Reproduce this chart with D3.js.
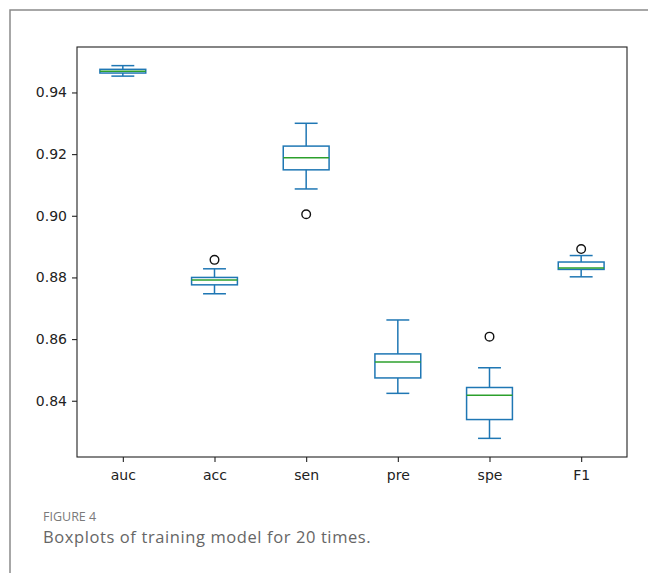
<!DOCTYPE html>
<html>
<head>
<meta charset="utf-8">
<script src="https://cdn.jsdelivr.net/npm/d3@7"></script>
<style>
  body { margin: 0; background: #fff; }
  svg { display: block; }
  .tick text { font-family: "DejaVu Sans", sans-serif; font-size: 14px; fill: #222; }
  .tick line { stroke: #222; }
</style>
</head>
<body>
<svg id="chart" width="648" height="573"></svg>
<script>
// Boxplot summary (20 training runs)
const metrics = ["auc", "acc", "sen", "pre", "spe", "F1"];
const whiskerLow  = [0.9453, 0.8747, 0.9087, 0.8424, 0.8278, 0.8802];
const q1          = [0.9463, 0.8776, 0.9149, 0.8474, 0.8339, 0.8826];
const medians     = [0.9469, 0.8792, 0.9188, 0.8526, 0.8418, 0.8831];
const q3          = [0.9475, 0.8800, 0.9226, 0.8552, 0.8443, 0.8850];
const whiskerHigh = [0.9487, 0.8828, 0.9300, 0.8662, 0.8507, 0.8871];
const outliers    = [[], [0.8857], [0.9005], [], [0.8608], [0.8892]];
const yTicks = [0.84, 0.86, 0.88, 0.90, 0.92, 0.94];

const boxes = metrics.map((m, i) => ({
  name: m,
  low: whiskerLow[i], q1: q1[i], med: medians[i], q3: q3[i], high: whiskerHigh[i],
  out: outliers[i]
}));

// Layout
const plot = { left: 77, top: 47, right: 627, bottom: 457 };

const svg = d3.select("#chart");

// card border (only top and left visible in the crop)
svg.append("path")
  .attr("d", "M10,573 V10 H648")
  .attr("fill", "none")
  .attr("stroke", "#8a8a8a")
  .attr("stroke-width", 1.5);

const x = d3.scalePoint()
  .domain(metrics)
  .range([plot.left, plot.right])
  .padding(0.5);

const allVals = whiskerLow.concat(whiskerHigh, outliers.flat());
const yMin = d3.min(allVals), yMax = d3.max(allVals);
const pad = (yMax - yMin) * 0.05;
const y = d3.scaleLinear()
  .domain([yMin - pad, yMax + pad])
  .range([plot.bottom, plot.top]);

const step = x.step();
const boxW = step * 0.5;
const capW = boxW * 0.5;

// Axes
svg.append("g")
  .attr("transform", `translate(${plot.left},0)`)
  .call(d3.axisLeft(y).tickValues(yTicks).tickFormat(d3.format(".2f")).tickSize(5).tickPadding(5))
  .call(g => g.select(".domain").remove())
  .call(g => g.selectAll(".tick line").attr("stroke-width", 1.1));

svg.append("g")
  .attr("transform", `translate(0,${plot.bottom})`)
  .call(d3.axisBottom(x).tickSize(5).tickPadding(5))
  .call(g => g.select(".domain").remove())
  .call(g => g.selectAll(".tick line").attr("stroke-width", 1.1))
  .call(g => g.selectAll(".tick text").attr("dy", "0.9em"));

// Boxes
const blue = "#1f77b4";
const g = svg.append("g");

const bx = g.selectAll(".box")
  .data(boxes)
  .join("g")
    .attr("class", "box")
    .attr("transform", d => `translate(${x(d.name)},0)`);

// whiskers
bx.append("line")
  .attr("x1", 0).attr("x2", 0)
  .attr("y1", d => y(d.q3)).attr("y2", d => y(d.high))
  .attr("stroke", blue).attr("stroke-width", 1.5);
bx.append("line")
  .attr("x1", 0).attr("x2", 0)
  .attr("y1", d => y(d.q1)).attr("y2", d => y(d.low))
  .attr("stroke", blue).attr("stroke-width", 1.5);

// caps
bx.append("line")
  .attr("x1", -capW / 2).attr("x2", capW / 2)
  .attr("y1", d => y(d.high)).attr("y2", d => y(d.high))
  .attr("stroke", blue).attr("stroke-width", 1.5);
bx.append("line")
  .attr("x1", -capW / 2).attr("x2", capW / 2)
  .attr("y1", d => y(d.low)).attr("y2", d => y(d.low))
  .attr("stroke", blue).attr("stroke-width", 1.5);

// box
bx.append("rect")
  .attr("x", -boxW / 2)
  .attr("width", boxW)
  .attr("y", d => y(d.q3))
  .attr("height", d => y(d.q1) - y(d.q3))
  .attr("fill", "none")
  .attr("stroke", blue).attr("stroke-width", 1.5);

// median
bx.append("line")
  .attr("x1", -boxW / 2).attr("x2", boxW / 2)
  .attr("y1", d => y(d.med)).attr("y2", d => y(d.med))
  .attr("stroke", "#2ca02c").attr("stroke-width", 1.5);

// fliers
bx.selectAll(".flier")
  .data(d => d.out)
  .join("circle")
    .attr("class", "flier")
    .attr("cx", 0)
    .attr("cy", v => y(v))
    .attr("r", 4.3)
    .attr("fill", "none")
    .attr("stroke", "#111")
    .attr("stroke-width", 1.4);

// frame
svg.append("rect")
  .attr("x", plot.left).attr("y", plot.top)
  .attr("width", plot.right - plot.left)
  .attr("height", plot.bottom - plot.top)
  .attr("fill", "none")
  .attr("stroke", "#222")
  .attr("stroke-width", 1.1);

// caption
svg.append("text")
  .attr("x", 43).attr("y", 521)
  .attr("font-family", "'Open Sans', sans-serif")
  .attr("font-size", 12.5)
  .attr("fill", "#7a7a7a")
  .text("FIGURE 4");

svg.append("text")
  .attr("x", 43).attr("y", 543)
  .attr("font-family", "'Open Sans', sans-serif")
  .attr("font-size", 16.5)
  .attr("letter-spacing", 0.6)
  .attr("fill", "#666")
  .text("Boxplots of training model for 20 times.");
</script>
</body>
</html>
